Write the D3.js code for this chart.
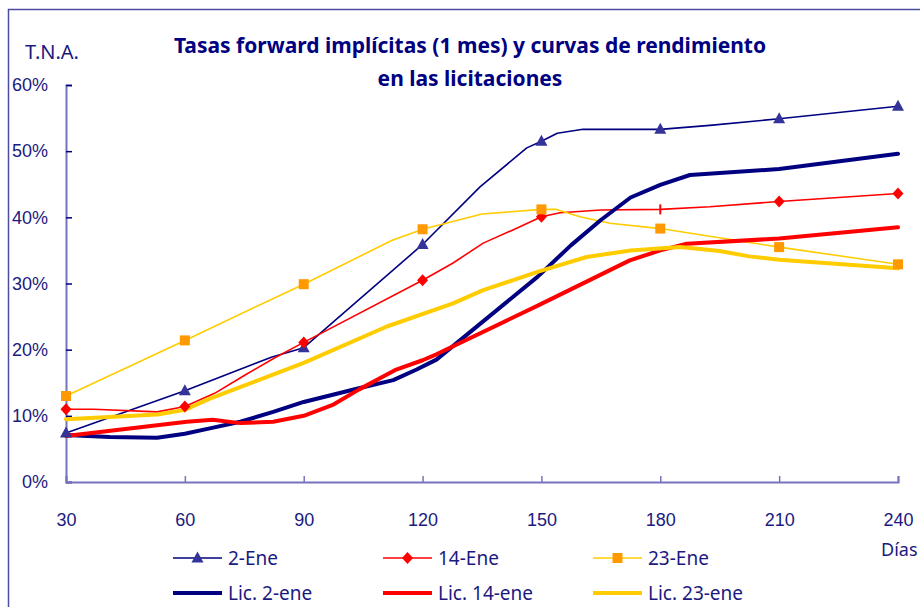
<!DOCTYPE html>
<html>
<head>
<meta charset="utf-8">
<script src="https://cdn.jsdelivr.net/npm/d3@7"></script>
<style>
  body { margin: 0; background: #fff; }
  svg { display: block; font-family: "Noto Sans", "Open Sans", sans-serif; }
</style>
</head>
<body>
<div class="main-container"></div>
<script>
// days to maturity and rates (%)
const days2Ene = [30, 60, 67, 82, 90, 120, 134.5, 146.3, 150, 154, 160.5, 180, 192.5, 210, 240];
const fwd2Ene = [7.4, 13.8, 15.4, 18.9, 20.3, 35.9, 44.6, 50.5, 51.5, 52.7, 53.3, 53.3, 53.9, 54.9, 56.8];

const days14Ene = [30, 37, 53, 60, 67.5, 75, 82.5, 90, 120, 127.7, 135.3, 142.8, 150, 154.7, 165, 180, 192.5, 210, 240];
const fwd14Ene = [11.0, 11.0, 10.6, 11.4, 13.4, 16.1, 18.7, 21.1, 30.5, 33.1, 36.1, 38.1, 40.1, 40.7, 41.1, 41.2, 41.6, 42.4, 43.6];

const days23Ene = [30, 60, 90, 112.2, 120, 135, 150, 153.8, 159.7, 167.3, 180, 210, 240];
const fwd23Ene = [13.0, 21.4, 29.9, 36.5, 38.2, 40.5, 41.2, 41.2, 40.1, 39.1, 38.3, 35.5, 32.9];

const daysLic2 = [30, 41, 53, 60, 66.3, 74, 82.3, 90, 103.4, 112.6, 118.5, 123.5, 149, 157.5, 165, 172.5, 180, 187.5, 210, 240];
const lic2 = [7.1, 6.8, 6.7, 7.3, 8.1, 9.1, 10.6, 12.1, 14.1, 15.4, 17.0, 18.5, 31.0, 35.8, 39.6, 43.0, 44.9, 46.4, 47.3, 49.6];

const daysLic14 = [30, 60.5, 67, 74, 82.3, 90, 97.5, 104, 113, 120, 123.5, 149.2, 172.3, 180, 186.7, 210, 240];
const lic14 = [6.95, 9.1, 9.4, 8.9, 9.1, 10.0, 11.7, 14.0, 16.9, 18.4, 19.3, 26.7, 33.5, 35.0, 36.0, 36.8, 38.5];

const daysLic23 = [30, 53, 60, 66.3, 90, 111, 127.7, 135.3, 149.2, 161.4, 172.5, 185, 195, 202.5, 210, 240];
const lic23 = [9.5, 10.2, 10.9, 12.6, 18.0, 23.5, 27.0, 29.0, 31.8, 34.0, 35.0, 35.5, 34.9, 34.1, 33.6, 32.3];

const xTicks = [30, 60, 90, 120, 150, 180, 210, 240];
const yTicks = [0, 10, 20, 30, 40, 50, 60];
const markerDays = xTicks;
const odd14Day = 180; // the 14-Ene point drawn with a dash instead of a diamond

const titleLines = ["Tasas forward implícitas (1 mes) y curvas de rendimiento", "en las licitaciones"];

const width = 920, height = 607;
const navy = "#000080", textCol = "#1a1a80", axisCol = "#7474bc";

const svg = d3.select(".main-container")
  .append("svg")
  .attr("width", width)
  .attr("height", height);

// outer frame (runs off the right and bottom)
svg.append("rect")
  .attr("x", 8.5).attr("y", 9.5)
  .attr("width", 1000).attr("height", 1000)
  .attr("fill", "none")
  .attr("stroke", "#4c4ca4")
  .attr("stroke-width", 1.5);

const x = d3.scaleLinear().domain([30, 240]).range([66, 898]);
const y = d3.scaleLinear().domain([0, 60]).range([482, 85]);

// axes
const yAxis = svg.append("g")
  .attr("transform", "translate(66,0)")
  .call(d3.axisLeft(y).tickValues(yTicks).tickSize(-6).tickPadding(18)
    .tickFormat(d => d + "%"));
const xAxis = svg.append("g")
  .attr("transform", "translate(0,482)")
  .call(d3.axisBottom(x).tickValues(xTicks).tickSize(-6).tickPadding(31));

[yAxis, xAxis].forEach(g => {
  g.select(".domain").attr("stroke", axisCol).attr("stroke-width", 2);
  g.selectAll(".tick line").attr("stroke", axisCol).attr("stroke-width", 1.5);
  g.selectAll("text").attr("fill", textCol).style("font-size", "18px");
});
yAxis.selectAll(".tick line").attr("stroke", navy);

svg.append("text")
  .attr("x", 25).attr("y", 59)
  .attr("fill", textCol)
  .style("font-size", "20px")
  .text("T.N.A.");

svg.append("text")
  .attr("x", 881).attr("y", 556)
  .attr("fill", textCol)
  .style("font-size", "18px")
  .text("Días");

svg.selectAll(".title")
  .data(titleLines)
  .enter().append("text")
  .attr("class", "title")
  .attr("x", 470)
  .attr("y", (d, i) => 53 + i * 33)
  .attr("text-anchor", "middle")
  .attr("fill", navy)
  .style("font-size", "21px")
  .style("font-weight", "bold")
  .text(d => d);

const line = d3.line()
  .x(d => x(d[0]))
  .y(d => y(d[1]));

const pairs = (ds, vs) => ds.map((d, i) => [d, vs[i]]);

const thinSeries = [
  {name: "2-Ene", data: pairs(days2Ene, fwd2Ene), color: navy, marker: "triangle", mcolor: "#333399"},
  {name: "14-Ene", data: pairs(days14Ene, fwd14Ene), color: "#ff0000", marker: "diamond", mcolor: "#ff0000"},
  {name: "23-Ene", data: pairs(days23Ene, fwd23Ene), color: "#ffcc00", marker: "square", mcolor: "#ff9900"}
];
const thickSeries = [
  {name: "Lic. 2-ene", data: pairs(daysLic2, lic2), color: navy},
  {name: "Lic. 14-ene", data: pairs(daysLic14, lic14), color: "#ff0000"},
  {name: "Lic. 23-ene", data: pairs(daysLic23, lic23), color: "#ffcc00"}
];

function markerPath(type) {
  if (type === "triangle") return "M0,-6.5L6,4.5L-6,4.5Z";
  if (type === "diamond") return "M0,-6L5.5,0L0,6L-5.5,0Z";
  return "M-5,-5H5V5H-5Z";
}

function drawMarker(g, s, cx, cy, day) {
  if (s.name === "14-Ene" && day === odd14Day) {
    g.append("line")
      .attr("x1", cx).attr("x2", cx)
      .attr("y1", cy - 5).attr("y2", cy + 5)
      .attr("stroke", s.mcolor).attr("stroke-width", 2);
    return;
  }
  g.append("path")
    .attr("d", markerPath(s.marker))
    .attr("transform", `translate(${cx},${cy})`)
    .attr("fill", s.mcolor);
}

const plot = svg.append("g");

thinSeries.forEach(s => {
  plot.append("path")
    .datum(s.data)
    .attr("fill", "none")
    .attr("stroke", s.color)
    .attr("stroke-width", 1.6)
    .attr("stroke-linejoin", "round")
    .attr("d", line);
});

thickSeries.forEach(s => {
  plot.append("path")
    .datum(s.data)
    .attr("fill", "none")
    .attr("stroke", s.color)
    .attr("stroke-width", 4)
    .attr("stroke-linejoin", "round")
    .attr("stroke-linecap", "round")
    .attr("d", line);
});

thinSeries.forEach(s => {
  s.data.filter(d => markerDays.includes(d[0]))
    .forEach(d => drawMarker(plot, s, x(d[0]), y(d[1]), d[0]));
});

// legend
const legendCols = [173, 383, 593];
const legendRows = [558, 593];
const legend = svg.append("g");

thinSeries.forEach((s, i) => {
  const lx = legendCols[i], ly = legendRows[0];
  legend.append("line")
    .attr("x1", lx).attr("x2", lx + 49)
    .attr("y1", ly).attr("y2", ly)
    .attr("stroke", s.color).attr("stroke-width", 1.6);
  legend.append("path")
    .attr("d", markerPath(s.marker))
    .attr("transform", `translate(${lx + 24.5},${ly})`)
    .attr("fill", s.mcolor);
  legend.append("text")
    .attr("x", lx + 55).attr("y", ly + 7)
    .attr("fill", textCol)
    .style("font-size", "19px")
    .text(s.name);
});

thickSeries.forEach((s, i) => {
  const lx = legendCols[i], ly = legendRows[1];
  legend.append("line")
    .attr("x1", lx).attr("x2", lx + 49)
    .attr("y1", ly).attr("y2", ly)
    .attr("stroke", s.color).attr("stroke-width", 4);
  legend.append("text")
    .attr("x", lx + 55).attr("y", ly + 7)
    .attr("fill", textCol)
    .style("font-size", "19px")
    .text(s.name);
});
</script>
</body>
</html>
